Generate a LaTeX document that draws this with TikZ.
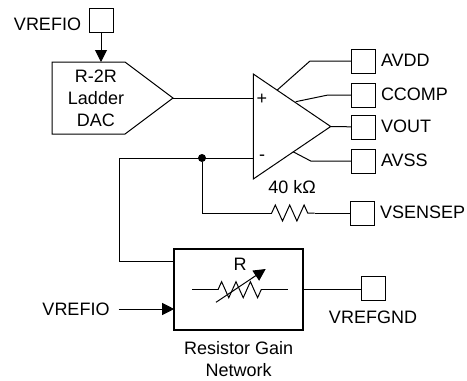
\documentclass[tikz,border=0pt]{standalone}
\usepackage{fontspec}
\setmainfont{Liberation Sans}
\usetikzlibrary{positioning,shapes.geometric,shapes.symbols,arrows.meta,decorations.pathmorphing}

\begin{document}
\begin{tikzpicture}[
      x=1pt,y=-1pt,
      node distance=6pt and 6pt,
      every node/.style={font=\fontsize{18}{22}\selectfont,inner sep=0pt,outer sep=0pt},
      pad/.style={draw,minimum size=24pt,line width=1pt},
      padtxt/.style={yshift=1pt},
      wire/.style={line width=1pt},
      arrow/.style={wire,-{Triangle[width=12pt,length=12pt]}},
      res/.style={wire,decorate,decoration={zigzag,segment length=14.4pt,amplitude=8pt}},
      dot/.style={circle,fill=black,minimum size=8pt}]
    \useasboundingbox (0,0) rectangle (467,381);
    % reference ladder and amplifier
    \node[pad] (vrefpad) at (101,20) {};
    \node (vreftxt) at (47.5,24) {VREFIO};
    \node[draw,wire,shape=signal,signal to=east,signal pointer angle=73.74,minimum width=121pt,minimum height=72pt,anchor=west] (dac) at (52,98) {};
    \node[align=center] (dactxt) at (96,98) {R-2R\\[0pt]Ladder\\[0pt]DAC};
    \node[draw,wire,shape=isosceles triangle,isosceles triangle apex angle=68.3,isosceles triangle stretches,minimum width=105pt,minimum height=77.4pt,anchor=apex] (opamp) at (330.7,126.5) {};
    \node (plus) at (262,99) {+};
    \node (minus) at (262,158) {-};
    % output pads
    \node[pad] (avdd) at (363,61) {};
    \node[pad] (ccomp) at (363,95) {};
    \node[pad] (vout) at (363,127) {};
    \node[pad] (avss) at (363,161) {};
    \node[pad] (vsensep) at (362,213) {};
    \node[padtxt,right=6pt of avdd] (avddtxt) {AVDD};
    \node[padtxt,right=6pt of ccomp] (ccomptxt) {CCOMP};
    \node[padtxt,right=6pt of vout] (vouttxt) {VOUT};
    \node[padtxt,right=6pt of avss] (avsstxt) {AVSS};
    \node[padtxt,right=6pt of vsensep] (vsensetxt) {VSENSEP};
    \node (rtxt) at (292,187) {40 kΩ};
    % gain network
    \node[draw,line width=2pt,minimum width=129pt,minimum height=81pt] (network) at (238.7,289.7) {};
    \node (rname) at (240,264) {R};
    \node[pad] (gndpad) at (373,288.7) {};
    \node[below=10pt of gndpad] (gndtxt) {VREFGND};
    \node (vrefin) at (76,309) {VREFIO};
    \node[align=center,below=11pt of network] (nettxt) {Resistor Gain\\[0pt]Network};
    \node[dot] (sum) at (202,158) {};
    \coordinate (avddtap) at (277.3,90);
    \coordinate (avddbend) at (310,61);
    \coordinate (ccomptap) at (295.7,101.7);
    \coordinate (ccompbend) at (328,95);
    \coordinate (avsstap) at (293,151.7);
    \coordinate (avssbend) at (310.7,161);
    \coordinate (corner) at (119,158);
    \coordinate (ra) at (271.7,213);
    \coordinate (rb) at (314.7,213);
    \coordinate (rc) at (192.3,289.7);
    \coordinate (rd) at (218,289.7);
    \coordinate (re) at (261.2,289.7);
    \coordinate (rf) at (288.3,289.7);
    \coordinate (wipa) at (216,302.3);
    \coordinate (wipb) at (265.7,269);
    \coordinate (opin) at (253.3,98);
    \coordinate (omin) at (253.3,158);
    \coordinate (netin) at (174,261);
    \draw[arrow] (vrefpad)--(dac.north -| vrefpad);
    \draw[wire] (dac.east)--(opin);
    \draw[wire] (avddtap)--(avddbend)--(avdd);
    \draw[wire] (ccomptap)--(ccompbend)--(ccomp);
    \draw[wire] (opamp.apex)--(vout);
    \draw[wire] (avsstap)--(avssbend)--(avss);
    \draw[wire] (omin)--(corner)|-(netin);
    \draw[wire] (sum)|-(ra);
    \draw[res] (ra)--(rb);
    \draw[wire] (rb)--(vsensep);
    \draw[wire] (rc)--(rd);
    \draw[res] (rd)--(re);
    \draw[wire] (re)--(rf);
    \draw[arrow] (wipa)--(wipb);
    \draw[wire] (network.east |- rf)--(gndpad.west |- rf);
    \draw[arrow] (vrefin.east)+(9pt,0)--(network.west |- vrefin);
  \end{tikzpicture}
\end{document}
